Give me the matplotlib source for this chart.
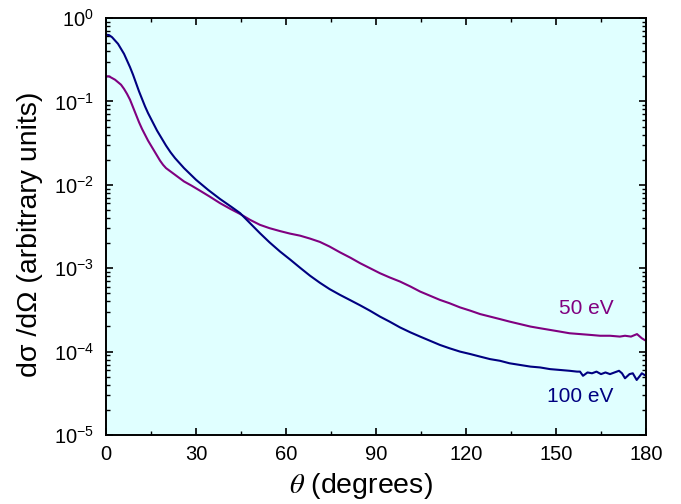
import numpy as np
import matplotlib
matplotlib.use("Agg")
import matplotlib.pyplot as plt
from matplotlib.ticker import MultipleLocator, LogLocator, NullFormatter

plt.rcParams['font.family'] = ['Liberation Sans', 'DejaVu Sans']
plt.rcParams['mathtext.fontset'] = 'stix'

# 100 eV curve: angle (deg) and log10 of cross section
theta_100 = [0, 1, 2, 3, 4, 5, 6, 7, 8, 9, 10, 11, 12, 13, 14, 15, 16, 17, 18.5, 20,
             21.5, 23, 24.5, 26, 28, 30, 32, 34, 36, 38, 40, 42, 44.7, 48, 51.3, 54.5,
             58, 61.5, 64.7, 68, 71.3, 74.5, 78, 81.5, 84.7, 88, 91.3, 94.5, 98, 101.5,
             104.7, 108, 111.3, 114.5, 118, 121.5, 124.7, 128, 131.3, 134.5, 138,
             141.5, 144.7, 148, 151.3, 154.5, 157, 158, 159, 160.5, 162, 163.5, 165,
             166.5, 168, 169.5, 171, 172, 173, 174.5, 175.6, 176.9, 178, 178.6, 179.5]
logdcs_100 = [-0.20, -0.205, -0.23, -0.27, -0.31, -0.37, -0.43, -0.51, -0.59, -0.68,
              -0.78, -0.88, -0.97, -1.06, -1.14, -1.21, -1.28, -1.35, -1.44, -1.53,
              -1.61, -1.68, -1.74, -1.80, -1.87, -1.94, -2.00, -2.06, -2.115, -2.17,
              -2.22, -2.27, -2.34, -2.46, -2.58, -2.69, -2.80, -2.90, -2.995, -3.09,
              -3.175, -3.25, -3.32, -3.385, -3.445, -3.51, -3.58, -3.64, -3.71, -3.77,
              -3.82, -3.87, -3.92, -3.96, -4.00, -4.03, -4.06, -4.09, -4.11, -4.14,
              -4.16, -4.18, -4.19, -4.21, -4.22, -4.23, -4.24, -4.24, -4.29, -4.25,
              -4.26, -4.24, -4.27, -4.25, -4.27, -4.25, -4.23, -4.26, -4.32, -4.27,
              -4.26, -4.34, -4.29, -4.26, -4.28]

# 50 eV curve
theta_50 = [0, 1, 2, 3, 4, 5, 6, 7, 8, 9, 10, 11, 12, 13, 14, 15, 16, 17, 18, 19, 20,
            21.5, 23, 24.5, 26, 28.5, 31.3, 34.5, 38, 41.5, 44.7, 48, 51.3, 54.5, 58,
            61.3, 64.7, 68, 71.3, 74.5, 78, 81.5, 84.7, 88, 91.3, 94.5, 98, 101.5,
            104.7, 108, 111.3, 114.5, 118, 121.5, 124.7, 128, 131.3, 134.5, 138,
            141.5, 144.7, 148, 151.3, 154.5, 158, 161.5, 164.7, 168, 171.3, 173, 175,
            177, 178.6, 179.5]
logdcs_50 = [-0.70, -0.70, -0.72, -0.74, -0.77, -0.80, -0.85, -0.91, -0.98, -1.07,
             -1.16, -1.25, -1.33, -1.40, -1.47, -1.53, -1.59, -1.65, -1.71, -1.76,
             -1.80, -1.84, -1.88, -1.92, -1.96, -2.01, -2.07, -2.14, -2.22, -2.29,
             -2.35, -2.42, -2.48, -2.52, -2.555, -2.585, -2.61, -2.645, -2.685, -2.74,
             -2.81, -2.875, -2.94, -3.00, -3.06, -3.11, -3.16, -3.22, -3.28, -3.33,
             -3.38, -3.42, -3.47, -3.51, -3.55, -3.58, -3.61, -3.64, -3.67, -3.70,
             -3.72, -3.74, -3.76, -3.78, -3.79, -3.80, -3.81, -3.81, -3.82, -3.81,
             -3.82, -3.79, -3.84, -3.86]

fig = plt.figure(figsize=(6.81, 5.04), dpi=100)
ax = fig.add_axes([0.1557, 0.1369, 0.7929, 0.8274])
ax.set_facecolor('#E0FFFF')

ax.plot(theta_50, 10.0 ** np.array(logdcs_50), color='#800080', lw=1.5)
ax.plot(theta_100, 10.0 ** np.array(logdcs_100), color='#000080', lw=1.5)

ax.text(160, 3.3e-4, '50 eV', color='#800080', fontsize=15, ha='center', va='center')
ax.text(158, 2.9e-5, '100 eV', color='#000080', fontsize=15, ha='center', va='center')

ax.set_yscale('log')
ax.set_xlim(0, 180)
ax.set_ylim(1e-5, 1)
ax.xaxis.set_major_locator(MultipleLocator(30))
ax.xaxis.set_minor_locator(MultipleLocator(15))
ax.yaxis.set_major_locator(LogLocator(base=10, numticks=10))
ax.yaxis.set_minor_locator(LogLocator(base=10, subs=np.arange(2, 10), numticks=10))
ax.yaxis.set_minor_formatter(NullFormatter())

ax.tick_params(which='both', direction='in', top=True, right=True, labelsize=14.5)
ax.tick_params(which='major', length=5, width=1.2)
ax.tick_params(which='minor', length=3, width=1.0)
ax.tick_params(axis='x', which='major', pad=7.5)
ax.tick_params(axis='y', which='major', pad=8.5)
for s in ax.spines.values():
    s.set_linewidth(1.4)

ax.set_xlabel(r'$\theta$ (degrees)', fontsize=20.5, va='baseline')
ax.xaxis.set_label_coords(0.472, -0.139)
ax.set_ylabel('dσ /dΩ (arbitrary units)', fontsize=20.5)
ax.yaxis.set_label_coords(-0.117, 0.482)

fig.savefig('out.png', dpi=100)
